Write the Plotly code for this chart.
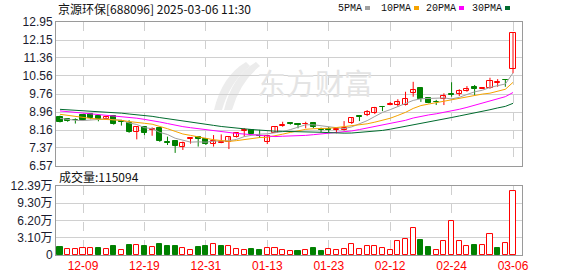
import plotly.graph_objects as go

# ---------------- data ----------------
dates = ["12-04","12-05","12-06","12-09","12-10","12-11","12-12","12-13","12-16","12-17",
         "12-18","12-19","12-20","12-23","12-24","12-25","12-26","12-27","12-30","12-31",
         "01-02","01-03","01-06","01-07","01-08","01-09","01-10","01-13","01-14","01-15",
         "01-16","01-17","01-20","01-21","01-22","01-23","01-24","01-27","02-05","02-06",
         "02-07","02-10","02-11","02-12","02-13","02-14","02-17","02-18","02-19","02-20",
         "02-21","02-24","02-25","02-26","02-27","02-28","03-03","03-04","03-05","03-06"]

open_ = [8.74,8.64,8.62,8.83,8.87,8.80,8.65,8.80,8.55,8.46,
         8.09,8.29,8.16,8.24,7.62,7.68,7.40,7.77,7.87,7.75,
         7.54,7.60,7.65,7.85,8.12,8.17,7.92,7.65,8.05,8.35,
         8.47,8.43,8.42,8.49,8.20,8.21,8.17,8.16,8.46,8.79,
         8.83,8.91,9.20,9.29,9.27,9.27,9.82,10.04,9.57,9.42,
         9.54,9.75,9.76,9.89,10.08,10.00,10.01,10.26,10.39,10.87]
high = [8.80,8.66,8.68,8.86,8.90,8.82,8.77,8.83,8.61,8.60,
        8.31,8.32,8.28,8.27,7.87,7.70,7.65,7.82,7.89,7.77,
        7.94,7.97,7.87,8.07,8.25,8.19,8.17,7.92,8.33,8.53,
        8.49,8.47,8.53,8.52,8.27,8.30,8.23,8.56,8.74,8.83,
        9.05,9.19,9.23,9.40,9.53,9.86,10.30,10.06,9.60,9.50,
        9.79,10.28,9.97,10.11,10.16,10.06,10.48,10.42,10.42,12.46]
low = [8.50,8.53,8.45,8.58,8.64,8.55,8.62,8.40,8.36,8.04,
       7.75,7.94,7.91,7.64,7.50,7.15,7.28,7.56,7.43,7.50,
       7.43,7.58,7.32,7.83,7.87,7.97,7.81,7.54,8.03,8.31,
       8.40,8.24,8.24,8.24,8.06,8.04,8.02,8.14,8.43,8.56,
       8.78,8.87,9.00,9.26,9.20,9.25,9.64,9.41,9.35,9.27,
       9.27,9.64,9.67,9.86,9.72,9.99,9.99,10.08,10.08,10.68]
close = [8.54,8.58,8.59,8.61,8.68,8.65,8.74,8.42,8.52,8.06,
         8.30,8.05,8.19,7.69,7.60,7.47,7.58,7.80,7.75,7.53,
         7.69,7.63,7.84,8.05,8.15,7.99,7.88,7.90,8.31,8.38,
         8.44,8.40,8.45,8.31,8.16,8.18,8.20,8.27,8.71,8.76,
         8.95,9.13,9.17,9.32,9.42,9.53,9.94,9.54,9.37,9.40,
         9.68,9.72,9.89,10.00,9.99,10.03,10.34,10.29,10.36,12.45]
# closes of the 29 sessions before the visible window (estimated from MA levels)
history_close = [9.10,9.25,9.38,9.30,9.18,9.22,9.30,9.15,9.20,9.12,
                 9.20,9.28,9.35,9.22,9.10,9.05,9.15,9.20,9.10,8.95,
                 9.10,9.15,9.05,8.98,8.92,8.85,8.75,8.66,8.60]
volume = [15000,10800,10800,12600,12600,12600,10800,16200,9000,18000,
          18000,16200,15000,19800,16200,16200,12600,9600,14400,15600,
          20400,15600,16800,11400,8400,10200,8400,12000,13200,9600,
          7800,6600,8400,12000,7200,11400,8400,11400,19200,10200,
          16800,15600,12000,8400,24600,29400,49300,26400,13800,9600,
          25800,60700,24600,16800,17400,17400,37300,12000,21000,115094]

label_dates = ["12-09","12-19","12-31","01-13","01-23","02-12","02-24","03-06"]
price_ticks = [6.57,7.37,8.16,8.96,9.76,10.56,11.36,12.15,12.95]
price_ticktext = ["6.57","7.37","8.16","8.96","9.76","10.56","11.36","12.15","12.95"]
vol_max = 123900
vol_ticks = [0,31000,62000,93000,123900]
vol_ticktext = ["0","3.10万","6.20万","9.30万","12.39万"]
ma_periods = [5,10,20,30]
ma_names = ["5PMA","10PMA","20PMA","30PMA"]
ma_colors = ["#a0a0a0","#f5a300","#ff00ff","#006b2e"]
title_text = "京源环保[688096] 2025-03-06 11:30"
vol_title = "成交量:115094"

UP = "#ff0000"
DOWN = "#008000"

# ---------------- derived ----------------
n = len(dates)
xs = list(range(n))
up = [c > o for o, c in zip(open_, close)]
full = history_close + close
off = len(history_close)
prev_close = [full[off + i - 1] for i in range(n)]
vol_up = [close[i] >= prev_close[i] for i in range(n)]
mas = {}
for p in ma_periods:
    vals = []
    for i in range(n):
        w = full[off + i - p + 1: off + i + 1]
        vals.append(sum(w) / len(w))
    mas[p] = vals

tick_idx = [dates.index(d) for d in label_dates]

fig = go.Figure()

# wicks
for flag, col in [(True, UP), (False, DOWN)]:
    wx, wy = [], []
    for i in range(n):
        if up[i] == flag:
            wx += [i, i, None]
            wy += [low[i], high[i], None]
    fig.add_trace(go.Scatter(x=wx, y=wy, mode="lines", line=dict(color=col, width=1),
                             hoverinfo="skip", showlegend=False, xaxis="x", yaxis="y"))

# bodies
for flag, col, fill in [(True, UP, "#ffffff"), (False, DOWN, DOWN)]:
    bx = [i for i in range(n) if up[i] == flag]
    base = [min(open_[i], close[i]) for i in bx]
    hgt = [max(abs(close[i] - open_[i]), 0.006) for i in bx]
    fig.add_trace(go.Bar(x=bx, y=hgt, base=base, width=0.66,
                         marker=dict(color=fill, line=dict(color=col, width=1)),
                         showlegend=False, xaxis="x", yaxis="y"))

# moving averages
for p, col in zip(ma_periods, ma_colors):
    fig.add_trace(go.Scatter(x=xs, y=mas[p], mode="lines", line=dict(color=col, width=1),
                             showlegend=False, xaxis="x", yaxis="y"))

# volume (coloured by change versus previous close)
for flag, col, fill in [(True, UP, "#ffffff"), (False, DOWN, DOWN)]:
    bx = [i for i in range(n) if vol_up[i] == flag]
    fig.add_trace(go.Bar(x=bx, y=[volume[i] for i in bx], width=0.66,
                         marker=dict(color=fill, line=dict(color=col, width=1)),
                         showlegend=False, xaxis="x2", yaxis="y2"))

grid = "#d0d0d0"
frame = "#9a9a9a"
xr = [-0.52, 60.17]
tf = dict(family="Liberation Sans, Arial", size=12, color="#1a1a2e")
fig.update_layout(
    width=578, height=276,
    margin=dict(l=56, r=56, t=22, b=21, autoexpand=False),
    paper_bgcolor="white", plot_bgcolor="white",
    barmode="overlay", bargap=0,
    xaxis=dict(domain=[0, 1], range=xr, anchor="y", tickvals=tick_idx, showticklabels=False,
               showgrid=True, gridcolor="#cfcfcf", griddash="dash", gridwidth=1, automargin=False,
               showline=True, mirror=True, linecolor=frame, linewidth=1, zeroline=False, ticks=""),
    yaxis=dict(domain=[0.382, 1], range=[6.57, 12.95], tickvals=price_ticks, ticktext=price_ticktext,
               showgrid=True, gridcolor=grid, gridwidth=1, showline=True, mirror=True, automargin=False,
               linecolor=frame, linewidth=1, zeroline=False, ticks="", tickfont=tf),
    xaxis2=dict(domain=[0, 1], range=xr, anchor="y2", tickvals=tick_idx, ticktext=label_dates,
                showgrid=True, gridcolor="#cfcfcf", griddash="dash", gridwidth=1, automargin=False,
                showline=True, mirror=True, linecolor=frame, linewidth=1, zeroline=False, ticks="",
                ticklabelstandoff=0,
                tickfont=dict(family="Liberation Sans, Arial", size=12, color="#ff0000")),
    yaxis2=dict(domain=[0, 0.296], range=[0, vol_max], tickvals=vol_ticks, ticktext=vol_ticktext,
                showgrid=True, gridcolor=grid, gridwidth=1, showline=True, mirror=True, automargin=False,
                linecolor=frame, linewidth=1, zeroline=False, ticks="",
                tickfont=dict(family="Liberation Sans, Arial, Noto Sans CJK SC", size=12, color="#1a1a2e")),
)

plot_w = 578 - 56 - 56
plot_h = 276 - 22 - 21


def px(xp):
    return (xp - 56) / plot_w


def py(yp):
    return (276 - 21 - yp) / plot_h


fig.add_annotation(text=title_text, xref="paper", yref="paper", x=0, y=1, yshift=14,
                   xanchor="left", yanchor="middle", showarrow=False,
                   font=dict(family="Noto Sans CJK SC", size=12, color="#111111"))
fig.add_annotation(text=vol_title, xref="paper", yref="paper", x=0, xshift=1, y=0.296, yshift=10,
                   xanchor="left", yanchor="middle", showarrow=False,
                   font=dict(family="Noto Sans CJK SC", size=12, color="#111111"))

# legend
leg_x = [338, 381, 426, 472]
for name, lx, col in zip(ma_names, leg_x, ma_colors):
    fig.add_annotation(text=name, xref="paper", yref="paper", x=px(lx), y=1, yshift=14,
                       xanchor="left", yanchor="middle", showarrow=False, xshift=-2,
                       font=dict(family="Liberation Mono", size=10, color="#111111"))
    x0 = px(lx + len(name) * 6 + 3)
    fig.add_shape(type="rect", xref="paper", yref="paper", x0=x0, x1=x0 + 5 / plot_w,
                  y0=1 + 12 / plot_h, y1=1 + 16 / plot_h, fillcolor=col, line=dict(width=0))

# watermark (logo swoosh + text)
wm = "#ececec"
for dx in (0, 10):
    path = (f"M {px(214+dx)} {py(110)} Q {px(222+dx)} {py(76)} {px(246+dx)} {py(62)} "
            f"L {px(250+dx)} {py(66)} Q {px(230+dx)} {py(82)} {px(222+dx)} {py(110)} Z")
    fig.add_shape(type="path", xref="paper", yref="paper", path=path, fillcolor=wm,
                  line=dict(width=0), layer="below")
fig.add_annotation(text="东方财富", xref="paper", yref="paper", x=px(315),
                   y=py(82), xanchor="center", yanchor="middle", showarrow=False,
                   font=dict(family="Noto Sans CJK SC", size=29, color="#e4e4e4"))

fig.write_html("out.html")
